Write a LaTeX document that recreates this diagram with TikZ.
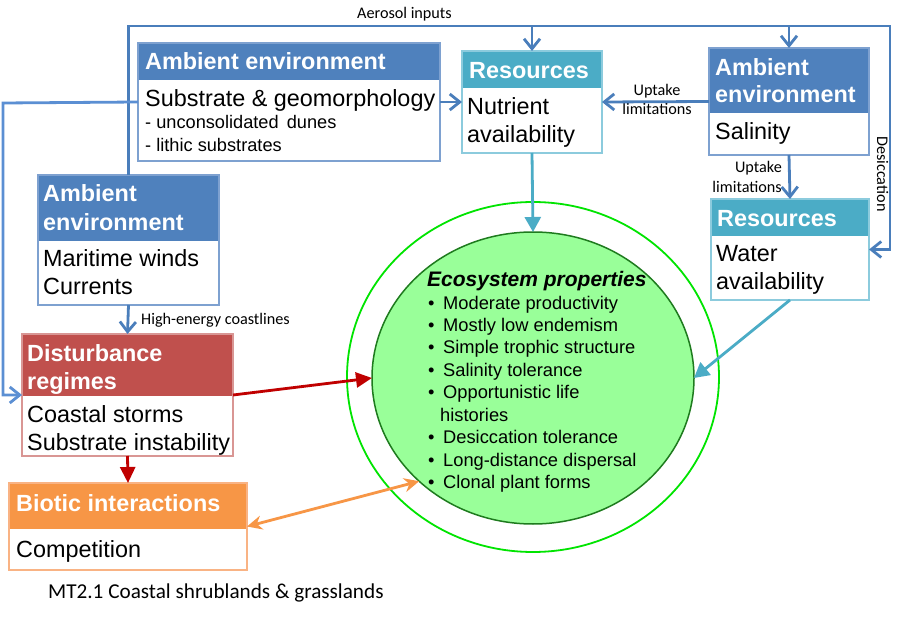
\documentclass[tikz,border=0pt]{standalone}
\usepackage{fontspec}
\setmainfont{Liberation Sans}
\newfontfamily\calfont{Carlito}
\usetikzlibrary{arrows.meta,shapes.geometric}
\definecolor{blueH}{HTML}{4F81BD}
\definecolor{blueB}{HTML}{7EA1D0}
\definecolor{lineB}{HTML}{4A7EBB}
\definecolor{lineB2}{HTML}{5B8FD3}
\definecolor{tealH}{HTML}{4BACC6}
\definecolor{tealB}{HTML}{8CCBDD}
\definecolor{redH}{HTML}{C0504D}
\definecolor{redB}{HTML}{D99694}
\definecolor{redA}{HTML}{C00000}
\definecolor{orH}{HTML}{F79646}
\definecolor{orB}{HTML}{F9B384}
\definecolor{ecoG}{HTML}{99FF99}
\definecolor{darkG}{HTML}{1E7B1E}
\definecolor{outerG}{HTML}{00E400}
\begin{document}
\begin{tikzpicture}[x=1pt,y=-1pt,
  frame/.style={draw=#1, line width=1.3pt, anchor=north west, inner sep=0pt, outer sep=0pt},
  hdr/.style={fill=#1, draw=none, anchor=north west, inner sep=0pt, outer sep=0pt},
  ht/.style={anchor=base west, inner sep=0pt, text=white, font=\fontsize{23.4}{23}\selectfont\bfseries},
  bt/.style={anchor=base west, inner sep=0pt, font=\fontsize{23.4}{23}\selectfont},
  st/.style={anchor=base west, inner sep=0pt, font=\fontsize{18.2}{18}\selectfont},
  et/.style={anchor=base west, inner sep=0pt, font=\fontsize{18.3}{18}\selectfont},
  lab/.style={inner sep=0pt, font=\calfont\fontsize{16.2}{16}\selectfont},
  bl/.style={draw=lineB, line width=2.8pt},
  openarr/.style={-{Straight Barb[length=10pt,width=16pt]}},
  tl/.style={draw=tealH, line width=2.8pt, -{Triangle[length=15pt,width=16pt]}},
  rl/.style={draw=redA, line width=2.8pt, -{Triangle[length=16pt,width=15pt]}},
  ol/.style={draw=orH, line width=2.8pt, {Stealth[length=15pt,width=14pt]}-{Stealth[length=15pt,width=14pt]}}
]
\useasboundingbox (0,0) rectangle (897,617);
\fill[white] (0,0) rectangle (897,617);

% ellipses
\node[ellipse, draw=outerG, line width=1.8pt, minimum width=372pt, minimum height=350pt, inner sep=0pt] (ring) at (533,377) {};
\node[ellipse, draw=darkG, fill=ecoG, line width=1.5pt, minimum width=322pt, minimum height=292pt, inner sep=0pt, outer sep=0pt] (eco) at (533,378) {};

% headers
\node[hdr=blueH, minimum width=302pt, minimum height=37pt] (subh) at (138,43) {};
\node[hdr=tealH, minimum width=140pt, minimum height=37pt] (nuth) at (462,51) {};
\node[hdr=blueH, minimum width=160pt, minimum height=65pt] (salh) at (709,48) {};
\node[hdr=tealH, minimum width=158pt, minimum height=37pt] (wath) at (711,199) {};
\node[hdr=blueH, minimum width=181pt, minimum height=66pt] (marh) at (38,175) {};
\node[hdr=redH, minimum width=211pt, minimum height=62pt] (dish) at (22,334) {};
\node[hdr=orH, minimum width=238pt, minimum height=46pt] (bioh) at (9,483) {};

% box frames
\node[frame=blueB, minimum width=302pt, minimum height=118pt] (sub) at (138,43) {};
\node[frame=tealB, minimum width=140pt, minimum height=102pt] (nut) at (462,51) {};
\node[frame=blueB, minimum width=160pt, minimum height=107pt] (sal) at (709,48) {};
\node[frame=tealB, minimum width=158pt, minimum height=101pt] (wat) at (711,199) {};
\node[frame=blueB, minimum width=181pt, minimum height=130pt] (mar) at (38,175) {};
\node[frame=redB, minimum width=211pt, minimum height=122pt] (dis) at (22,334) {};
\node[frame=orB, minimum width=238pt, minimum height=87pt] (bio) at (9,483) {};

% box texts
\node[ht] (t1) at (145,70) {Ambient environment};
\node[bt] (t2) at (145,107) {Substrate \& geomorphology};
\node[st] (t3) at (145,129) {- unconsolidated\, dunes};
\node[st] (t4) at (145,152) {- lithic substrates};

\node[ht] (t5) at (469,79) {Resources};
\node[bt] (t6) at (467,115) {Nutrient};
\node[bt] (t7) at (467,143) {availability};

\node[ht] (t8) at (715,76) {Ambient};
\node[ht] (t9) at (715,103) {environment};
\node[bt] (t10) at (715,140) {Salinity};

\node[ht] (t11) at (717,227) {Resources};
\node[bt] (t12) at (716,262) {Water};
\node[bt] (t13) at (716,290) {availability};

\node[ht] (t14) at (43,202) {Ambient};
\node[ht] (t15) at (43,231) {environment};
\node[bt] (t16) at (43,267) {Maritime winds};
\node[bt] (t17) at (43,295) {Currents};

\node[ht] (t18) at (27,362) {Disturbance};
\node[ht] (t19) at (27,390) {regimes};
\node[bt] (t20) at (27,422) {Coastal storms};
\node[bt] (t21) at (27,450) {Substrate instability};

\node[ht] (t22) at (16,511) {Biotic interactions};
\node[bt] (t23) at (16,557) {Competition};

% ecosystem properties
\node[anchor=base west, inner sep=0pt, font=\fontsize{21}{21}\selectfont\bfseries\itshape] (et0) at (427,287) {Ecosystem properties};
\foreach \y/\t [count=\i] in {310/Moderate productivity, 332/Mostly low endemism, 354/Simple trophic structure, 377/Salinity tolerance, 399/Opportunistic life, 443/Desiccation tolerance, 466/Long-distance dispersal, 488/Clonal plant forms}{
  \node[et] (eb\i) at (428,\y) {•};
  \node[et] (ei\i) at (443,\y) {\t};
}
\node[et] (eh) at (440,421) {histories};

% labels
\node[lab, anchor=base east] (aer) at (452,19) {Aerosol inputs};
\node[lab, anchor=base] (up1) at (657,96) {Uptake};
\node[lab, anchor=base] (li1) at (657,115) {limitations};
\node[lab, anchor=base east] (up2) at (782,173) {Uptake};
\node[lab, anchor=base east] (li2) at (782,193) {limitations};
\node[lab, anchor=base west] (hec) at (141,325) {High-energy coastlines};
\node[lab, anchor=base, rotate=-90] (des) at (877,174) {Desiccation};
\node[inner sep=0pt, anchor=base west, font=\calfont\fontsize{21.2}{21}\selectfont] (cap) at (48,598) {MT2.1 Coastal shrublands \& grasslands};

% connectors
\coordinate (tr) at (890,26);
\coordinate (lx) at (3,103);
\draw[bl, openarr] (mar.north) |- (tr) |- (wat.east);
\draw[bl, openarr] (nut.north |- tr) -- (nut.north);
\draw[bl, openarr] (sal.north |- tr) -- (sal.north);
\draw[bl, draw=lineB2, openarr] (sub.west) -- (lx) |- (dis.west);
\draw[bl, openarr] (sub.east) -- (nut.west);
\draw[bl, openarr] (sal.west) -- (nut.east);
\draw[bl, openarr] (sal.south) -- (wat.north);
\draw[bl, openarr] (mar.south) -- (dis.north);
\draw[tl] (nut.south) -- (eco.north);
\draw[tl] (wat.south) -- (eco.east);
\draw[rl] (dis.east) -- (eco.west);
\draw[rl] (dis.south) -- (bio.north);
\draw[ol] (bio.east) -- (eco.south west);
\end{tikzpicture}
\end{document}
